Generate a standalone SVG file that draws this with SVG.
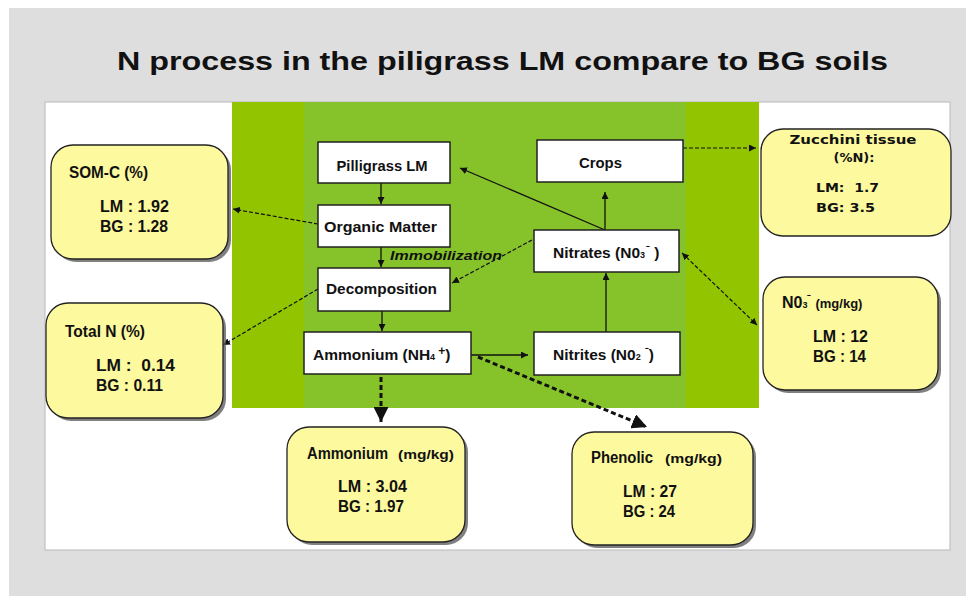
<svg xmlns="http://www.w3.org/2000/svg" width="966" height="596" viewBox="0 0 966 596">
<defs>
<style>
.t{font-family:"Liberation Sans",Arial,sans-serif;font-weight:bold;fill:#111}
.c{font-size:15.5px}
.y{font-size:16px}
.sm{font-size:13px}
.v{font-family:"DejaVu Sans",Verdana,sans-serif;font-weight:bold;font-size:13px;fill:#111}
.box{fill:#fff;stroke:#222;stroke-width:1.5}
.yb{fill:#fdf99e;stroke:#222;stroke-width:1.3}
.sh{fill:#555;opacity:.75}
.ln{stroke:#111;stroke-width:1.3;fill:none}
.ds{stroke:#111;stroke-width:1.2;fill:none;stroke-dasharray:4 2}
.dt{stroke:#111;stroke-width:3;fill:none;stroke-dasharray:5 3}
</style>
<marker id="aS" viewBox="0 0 10 10" refX="10" refY="5" markerWidth="7" markerHeight="7" markerUnits="userSpaceOnUse" orient="auto-start-reverse"><path d="M0,0 L10,5 L0,10 z" fill="#111"/></marker>
<marker id="aL" viewBox="0 0 10 10" refX="10" refY="5" markerWidth="15" markerHeight="15" markerUnits="userSpaceOnUse" orient="auto"><path d="M0,0 L10,5 L0,10 z" fill="#111"/></marker>
</defs>
<rect x="0" y="0" width="966" height="596" fill="#fff"/>
<rect x="9" y="8" width="957" height="588" fill="#dedede"/>
<text class="t" x="117" y="70" font-size="25" textLength="771" lengthAdjust="spacingAndGlyphs">N process in the piligrass LM compare to BG soils</text>
<rect x="45" y="102" width="905" height="448" fill="#fff" stroke="#b8b8b8" stroke-width="1"/>
<rect x="232" y="102" width="527" height="306" fill="#92c400"/>
<rect x="304" y="102" width="382" height="306" fill="#86c22a"/>

<g id="connectors">
<line class="ln" x1="381" y1="183" x2="381" y2="204" marker-end="url(#aS)"/>
<line class="ln" x1="381" y1="247" x2="381" y2="267" marker-end="url(#aS)"/>
<line class="ln" x1="382" y1="311" x2="382" y2="331" marker-end="url(#aS)"/>
<line class="ln" x1="471" y1="355" x2="528" y2="355" marker-end="url(#aS)"/>
<line class="ln" x1="606" y1="332" x2="606" y2="273" marker-end="url(#aS)"/>
<line class="ln" x1="605" y1="230" x2="605" y2="192" marker-end="url(#aS)"/>
<line class="ln" x1="605" y1="230" x2="460" y2="168" marker-end="url(#aS)"/>
<line class="ds" x1="683" y1="148" x2="756" y2="148" marker-end="url(#aS)"/>
<line class="ds" x1="318" y1="224" x2="233" y2="209" marker-end="url(#aS)"/>
<line class="ds" x1="318" y1="289" x2="223" y2="345" marker-end="url(#aS)"/>
<line class="ds" x1="532" y1="240" x2="452" y2="283" marker-end="url(#aS)"/>
<line class="ds" x1="682" y1="253" x2="757" y2="325" marker-start="url(#aS)" marker-end="url(#aS)"/>
<line class="dt" x1="381" y1="377" x2="381" y2="422" marker-end="url(#aL)"/>
<line class="dt" x1="478" y1="357" x2="647" y2="427" marker-end="url(#aL)"/>
</g>

<g id="pilligrass"><rect class="box" x="318" y="142" width="132" height="41"/><text class="t c" x="382" y="171" text-anchor="middle" textLength="91" lengthAdjust="spacingAndGlyphs">Pilligrass LM</text></g>
<g id="organic"><rect class="box" x="318" y="205" width="132" height="42"/><text class="t c" x="324" y="232" textLength="113" lengthAdjust="spacingAndGlyphs">Organic Matter</text></g>
<g id="decomposition"><rect class="box" x="318" y="268" width="132" height="43"/><text class="t c" x="326" y="294" textLength="111" lengthAdjust="spacingAndGlyphs">Decomposition</text></g>
<text class="t" x="390" y="260" font-size="13.5" font-style="italic" fill="#222" textLength="112" lengthAdjust="spacingAndGlyphs">Immobilization</text>
<g id="ammonium"><rect class="box" x="304" y="332" width="167" height="42"/><text class="t c" x="313" y="360">Ammonium (NH<tspan font-size="9">4</tspan><tspan dx="3" dy="-5" font-size="12">+</tspan><tspan dy="5">)</tspan></text></g>
<g id="crops"><rect class="box" x="537" y="140" width="146" height="42"/><text class="t c" x="579" y="168" textLength="43" lengthAdjust="spacingAndGlyphs">Crops</text></g>
<g id="nitrates"><rect class="box" x="534" y="230" width="145" height="42"/><text class="t c" x="553" y="258">Nitrates  (N0<tspan font-size="9">3</tspan><tspan dx="1" dy="-5" font-size="11">⁻</tspan><tspan dy="5"> )</tspan></text></g>
<g id="nitrites"><rect class="box" x="534" y="332" width="146" height="43"/><text class="t c" x="553" y="360">Nitrites  (N0<tspan font-size="9">2</tspan><tspan dx="4" dy="-5" font-size="11">⁻</tspan><tspan dy="5">)</tspan></text></g>

<g id="somc"><rect class="sh" x="54" y="148" width="177" height="114" rx="22"/><rect class="yb" x="51" y="145" width="177" height="114" rx="22"/>
<text class="t y" x="69" y="178" textLength="79" lengthAdjust="spacingAndGlyphs">SOM-C (%)</text>
<text class="t y" x="100" y="212" textLength="69" lengthAdjust="spacingAndGlyphs">LM : 1.92</text>
<text class="t y" x="100" y="232" textLength="68" lengthAdjust="spacingAndGlyphs">BG : 1.28</text></g>

<g id="totaln"><rect class="sh" x="49" y="306" width="177" height="115" rx="22"/><rect class="yb" x="46" y="303" width="177" height="115" rx="22"/>
<text class="t y" x="65" y="337" textLength="80" lengthAdjust="spacingAndGlyphs">Total N (%)</text>
<text class="t y" x="96" y="371" textLength="79" lengthAdjust="spacingAndGlyphs" xml:space="preserve">LM :  0.14</text>
<text class="t y" x="96" y="391" textLength="67" lengthAdjust="spacingAndGlyphs">BG : 0.11</text></g>

<g id="zucchini"><rect class="yb" x="761" y="129" width="190" height="107" rx="22"/>
<text class="v" x="853" y="144" text-anchor="middle" textLength="127" lengthAdjust="spacingAndGlyphs">Zucchini tissue</text>
<text class="v" x="854" y="162" text-anchor="middle">(%N):</text>
<text class="v" x="816" y="192" textLength="63" lengthAdjust="spacingAndGlyphs" xml:space="preserve">LM:  1.7</text>
<text class="v" x="816" y="212" textLength="59" lengthAdjust="spacingAndGlyphs">BG: 3.5</text></g>

<g id="no3"><rect class="sh" x="766" y="280" width="175" height="113" rx="22"/><rect class="yb" x="763" y="277" width="175" height="113" rx="22"/>
<text class="t y" x="782" y="308">N0<tspan font-size="9">3</tspan><tspan dy="-6" font-size="11">⁻</tspan><tspan dx="4" dy="6" font-size="13">(mg/kg)</tspan></text>
<text class="t y" x="813" y="342" textLength="55" lengthAdjust="spacingAndGlyphs">LM : 12</text>
<text class="t y" x="813" y="362" textLength="53" lengthAdjust="spacingAndGlyphs">BG : 14</text></g>

<g id="ammoniumbox"><rect class="sh" x="290" y="430" width="178" height="115" rx="22"/><rect class="yb" x="287" y="427" width="178" height="115" rx="22"/>
<text class="t y" x="307" y="459" textLength="81" lengthAdjust="spacingAndGlyphs">Ammonium</text>
<text class="t sm" x="398" y="459" textLength="56" lengthAdjust="spacingAndGlyphs">(mg/kg)</text>
<text class="t y" x="338" y="492" textLength="69" lengthAdjust="spacingAndGlyphs">LM : 3.04</text>
<text class="t y" x="338" y="512" textLength="66" lengthAdjust="spacingAndGlyphs">BG : 1.97</text></g>

<g id="phenolic"><rect class="sh" x="575" y="435" width="181" height="113" rx="22"/><rect class="yb" x="572" y="432" width="181" height="113" rx="22"/>
<text class="t y" x="591" y="463" textLength="62" lengthAdjust="spacingAndGlyphs">Phenolic</text>
<text class="t sm" x="665" y="463" textLength="57" lengthAdjust="spacingAndGlyphs">(mg/kg)</text>
<text class="t y" x="623" y="497" textLength="54" lengthAdjust="spacingAndGlyphs">LM : 27</text>
<text class="t y" x="623" y="517" textLength="52" lengthAdjust="spacingAndGlyphs">BG : 24</text></g>
</svg>
